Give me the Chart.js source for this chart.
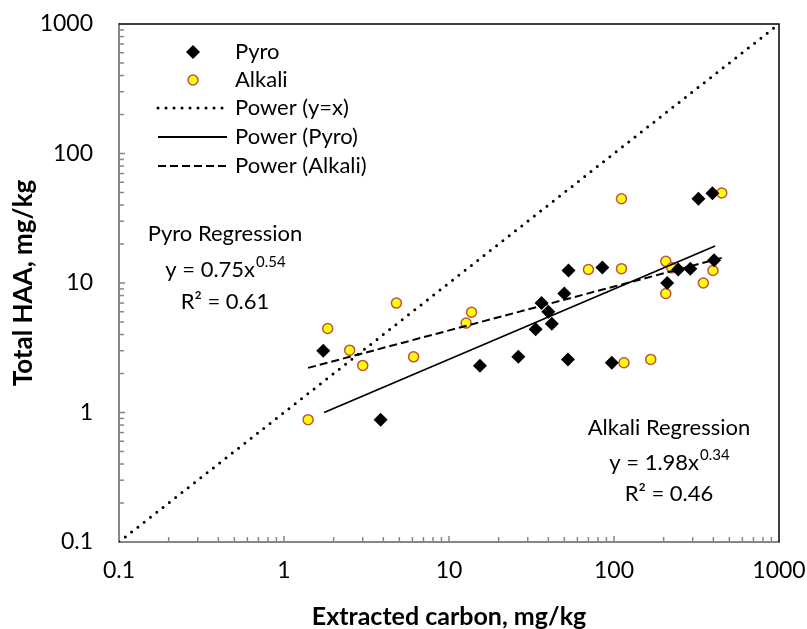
<!DOCTYPE html>
<html>
<head>
<meta charset="utf-8">
<script src="https://cdn.jsdelivr.net/npm/chart.js@4.4.1/dist/chart.umd.min.js"></script>
<style>
  html, body { margin: 0; padding: 0; background: #fff; }
</style>
</head>
<body>
<canvas id="chart" width="807" height="629"></canvas>
<script>
// values (mg/kg)
const pyroX = [325, 395, 53, 85, 210, 245, 290, 404, 50, 36.4, 40, 42, 33.5, 1.73, 15.4, 26.3, 52.6, 97, 3.85];
const pyroY = [44.7, 49.4, 12.5, 13.2, 10.0, 12.7, 12.9, 15.0, 8.3, 7.0, 6.0, 4.85, 4.4, 3.0, 2.3, 2.7, 2.57, 2.42, 0.88];

const alkaliX = [111, 450, 70, 111, 206, 224, 398, 348, 206, 4.8, 13.7, 12.7, 1.84, 2.5, 3.0, 6.1, 115, 167, 1.4];
const alkaliY = [44.7, 49.5, 12.7, 12.9, 14.7, 13.1, 12.5, 10.0, 8.3, 7.0, 5.95, 4.9, 4.45, 3.03, 2.31, 2.69, 2.42, 2.57, 0.88];

// trend line end points
const oneToOneX = [0.1, 1000];
const oneToOneY = [0.1, 1000];
const pyroFitX = [1.75, 410];
const pyroFitY = [1.0, 19.3];
const alkaliFitX = [1.4, 464];
const alkaliFitY = [2.21, 15.8];

const xTickVals = [0.1, 1, 10, 100, 1000];
const xTickLabels = ["0.1", "1", "10", "100", "1000"];
const yTickVals = [0.1, 1, 10, 100, 1000];
const yTickLabels = ["0.1", "1", "10", "100", "1000"];

const FONT = "Lato, 'Liberation Sans', Arial, sans-serif";
const AXIS_GREY = "#868686";

function pts(xs, ys) {
  return xs.map((x, i) => ({ x: x, y: ys[i] }));
}

function noPad(s) {
  s.paddingTop = 0; s.paddingBottom = 0; s.paddingLeft = 0; s.paddingRight = 0;
}

// minor ticks (inside), top/right frame, legend and regression notes
const extras = {
  id: "extras",
  beforeDatasetsDraw(chart) {
    const { ctx, chartArea: a, scales: { x, y } } = chart;
    ctx.save();
    ctx.strokeStyle = AXIS_GREY;
    ctx.lineWidth = 1.5;
    for (let e = -1; e < 3; e++) {
      for (let m = 1; m < 10; m++) {
        const v = m * Math.pow(10, e);
        const len = m === 1 ? 6 : 5;
        if (v > 0.1) {
          const px = x.getPixelForValue(v);
          ctx.beginPath();
          ctx.moveTo(px, a.bottom);
          ctx.lineTo(px, a.bottom - len);
          ctx.stroke();
          const py = y.getPixelForValue(v);
          ctx.beginPath();
          ctx.moveTo(a.left, py);
          ctx.lineTo(a.left + len, py);
          ctx.stroke();
        }
      }
    }
    ctx.strokeStyle = "#000";
    ctx.lineWidth = 1.5;
    ctx.beginPath();
    ctx.moveTo(a.left, a.top);
    ctx.lineTo(a.right, a.top);
    ctx.lineTo(a.right, a.bottom);
    ctx.stroke();
    ctx.restore();
  },
  afterDraw(chart) {
    const { ctx, chartArea: a } = chart;
    ctx.save();

    // legend
    const rowY = [28, 56, 84, 113, 142];
    const mx = a.left + 74;
    ctx.font = "22px " + FONT;
    ctx.textBaseline = "middle";
    ctx.textAlign = "left";
    chart.data.datasets.forEach((ds, i) => {
      const cy = a.top + rowY[i];
      ctx.save();
      if (ds.showLine) {
        ctx.strokeStyle = ds.borderColor;
        ctx.lineWidth = ds.borderWidth;
        ctx.lineCap = ds.borderCapStyle || "butt";
        ctx.setLineDash(ds.borderDash || []);
        ctx.beginPath();
        ctx.moveTo(a.left + 39, cy);
        ctx.lineTo(a.left + 108, cy);
        ctx.stroke();
      } else {
        const r = ds.pointRadius;
        ctx.fillStyle = ds.backgroundColor;
        ctx.strokeStyle = ds.borderColor;
        ctx.lineWidth = ds.borderWidth;
        ctx.beginPath();
        if (ds.pointStyle === "circle") {
          ctx.arc(mx, cy, r, 0, Math.PI * 2);
          ctx.fill();
          ctx.stroke();
        } else {
          ctx.moveTo(mx - r, cy);
          ctx.lineTo(mx, cy - r);
          ctx.lineTo(mx + r, cy);
          ctx.lineTo(mx, cy + r);
          ctx.closePath();
          ctx.fill();
        }
      }
      ctx.restore();
      ctx.fillStyle = "#000";
      ctx.fillText(ds.label, a.left + 116, cy);
    });

    // regression notes
    function note(cx, cy, lines) {
      ctx.textAlign = "left";
      ctx.textBaseline = "middle";
      ctx.fillStyle = "#000";
      lines.forEach((ln, i) => {
        ctx.font = "22px " + FONT;
        const w1 = ctx.measureText(ln.text).width;
        let w2 = 0;
        if (ln.sup) {
          ctx.font = "15px " + FONT;
          w2 = ctx.measureText(ln.sup).width;
        }
        const x0 = cx - (w1 + w2) / 2;
        ctx.font = "22px " + FONT;
        ctx.fillText(ln.text, x0, cy[i]);
        if (ln.sup) {
          ctx.font = "15px " + FONT;
          ctx.fillText(ln.sup, x0 + w1 + 1, cy[i] - 8);
        }
      });
    }
    note(225, [234, 270, 302], [
      { text: "Pyro Regression" },
      { text: "y = 0.75x", sup: "0.54" },
      { text: "R\u00B2 = 0.61" }
    ]);
    note(669, [428, 463, 494], [
      { text: "Alkali Regression" },
      { text: "y = 1.98x", sup: "0.34" },
      { text: "R\u00B2 = 0.46" }
    ]);
    ctx.restore();
  }
};

new Chart(document.getElementById("chart").getContext("2d"), {
  type: "scatter",
  data: {
    datasets: [
      {
        label: "Pyro",
        data: pts(pyroX, pyroY),
        pointStyle: "rectRot",
        pointRadius: 7,
        backgroundColor: "#000",
        borderColor: "#000",
        borderWidth: 0,
        order: 2
      },
      {
        label: "Alkali",
        data: pts(alkaliX, alkaliY),
        pointStyle: "circle",
        pointRadius: 5,
        backgroundColor: "#FFFF00",
        borderColor: "#C0504D",
        borderWidth: 1.5,
        order: 3
      },
      {
        label: "Power (y=x)",
        data: pts(oneToOneX, oneToOneY),
        showLine: true,
        borderColor: "#000",
        borderWidth: 3,
        borderDash: [0, 8],
        borderCapStyle: "round",
        pointRadius: 0,
        order: 1
      },
      {
        label: "Power (Pyro)",
        data: pts(pyroFitX, pyroFitY),
        showLine: true,
        borderColor: "#000",
        borderWidth: 1.8,
        pointRadius: 0,
        order: 1
      },
      {
        label: "Power (Alkali)",
        data: pts(alkaliFitX, alkaliFitY),
        showLine: true,
        borderColor: "#000",
        borderWidth: 2,
        borderDash: [8, 4],
        pointRadius: 0,
        order: 1
      }
    ]
  },
  options: {
    responsive: false,
    animation: false,
    layout: { padding: { left: 0, right: 28, top: 24, bottom: 0 } },
    plugins: { legend: { display: false }, tooltip: { enabled: false } },
    scales: {
      x: {
        type: "logarithmic",
        min: 0.1,
        max: 1000,
        grid: { display: false, drawTicks: false },
        border: { color: AXIS_GREY, width: 2 },
        afterBuildTicks: (s) => { s.ticks = xTickVals.map(v => ({ value: v })); },
        afterFit: (s) => { s.height = 87; noPad(s); },
        ticks: {
          autoSkip: false,
          maxRotation: 0,
          padding: 15,
          color: "#000",
          font: { family: FONT, size: 23 },
          callback: (v, i) => xTickLabels[i]
        },
        title: {
          display: true,
          text: "Extracted carbon, mg/kg",
          color: "#000",
          padding: 0,
          font: { family: FONT, size: 25, weight: "bold", lineHeight: 1 }
        }
      },
      y: {
        type: "logarithmic",
        min: 0.1,
        max: 1000,
        grid: { display: false, drawTicks: false },
        border: { color: AXIS_GREY, width: 2 },
        afterBuildTicks: (s) => { s.ticks = yTickVals.map(v => ({ value: v })); },
        afterFit: (s) => { s.width = 119; noPad(s); },
        ticks: {
          autoSkip: false,
          padding: 26,
          color: "#000",
          font: { family: FONT, size: 23 },
          callback: (v, i) => yTickLabels[i]
        },
        title: {
          display: true,
          text: "Total HAA, mg/kg",
          color: "#000",
          padding: 11,
          font: { family: FONT, size: 26, weight: "bold", lineHeight: 1 }
        }
      }
    }
  },
  plugins: [extras]
});
</script>
</body>
</html>
